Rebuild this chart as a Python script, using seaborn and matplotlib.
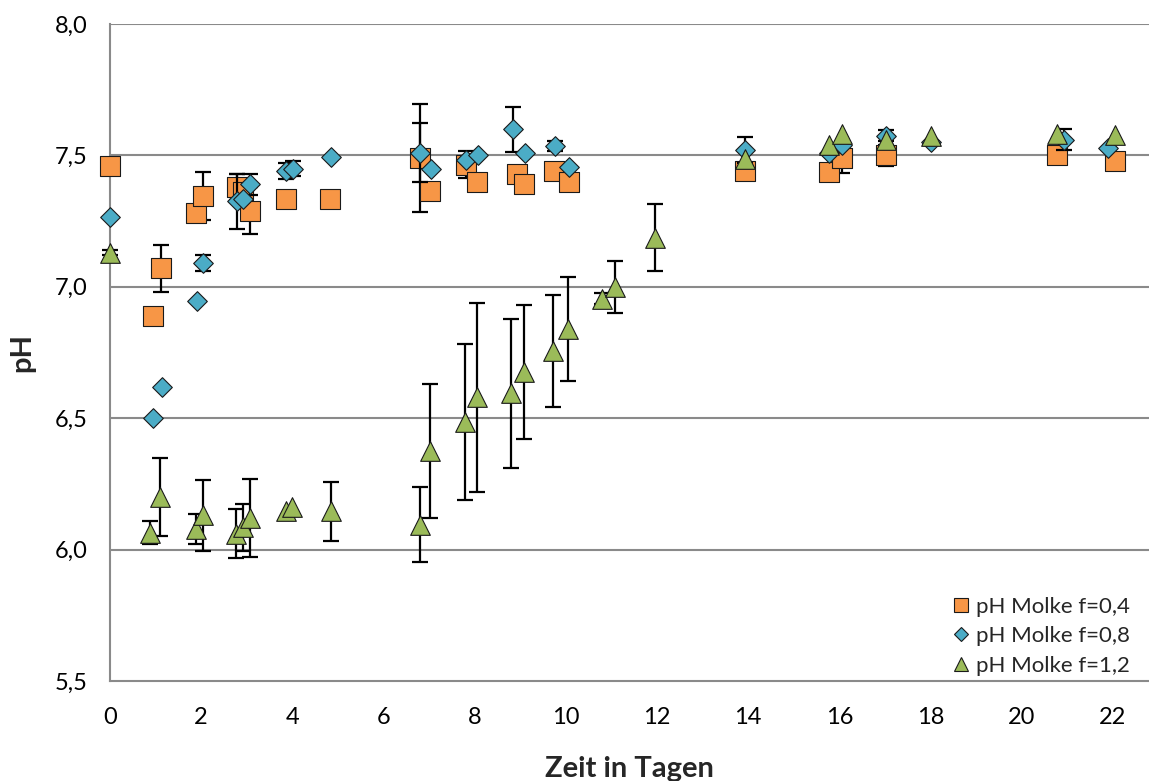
import matplotlib
matplotlib.use("Agg")
import matplotlib.pyplot as plt
from matplotlib.lines import Line2D
from matplotlib.ticker import FuncFormatter
import pandas as pd
import seaborn as sns

# Series data: time in days, pH, standard deviation
days_f04 = [0.00, 0.94, 1.12, 1.88, 2.04, 2.78, 2.92, 3.08, 3.87, 4.82, 6.81, 7.03,
            7.80, 8.06, 8.93, 9.09, 9.75, 10.06, 13.94, 15.78, 16.05, 17.03, 20.78, 22.05]
ph_f04 = [7.46, 6.89, 7.07, 7.28, 7.345, 7.38, 7.36, 7.29, 7.335, 7.335, 7.49, 7.365,
          7.465, 7.40, 7.43, 7.39, 7.44, 7.40, 7.44, 7.435, 7.49, 7.50, 7.50, 7.48]
sd_f04 = [0.0, 0.0, 0.09, 0.03, 0.09, 0.05, 0.0, 0.09, 0.0, 0.0, 0.205, 0.0,
          0.05, 0.0, 0.0, 0.0, 0.0, 0.0, 0.0, 0.0, 0.057, 0.04, 0.0, 0.0]

days_f08 = [0.00, 0.94, 1.13, 1.90, 2.05, 2.78, 2.92, 3.08, 3.87, 4.02, 4.84, 6.81,
            7.05, 7.80, 8.07, 8.84, 9.10, 9.77, 10.06, 13.94, 15.78, 16.05, 17.03,
            18.02, 20.94, 21.90]
ph_f08 = [7.265, 6.50, 6.62, 6.945, 7.09, 7.325, 7.335, 7.39, 7.44, 7.45, 7.495, 7.51,
          7.447, 7.484, 7.50, 7.60, 7.51, 7.535, 7.455, 7.52, 7.51, 7.54, 7.575,
          7.55, 7.56, 7.53]
sd_f08 = [0.0, 0.0, 0.0, 0.0, 0.03, 0.105, 0.0, 0.04, 0.03, 0.03, 0.0, 0.113,
          0.0, 0.0, 0.0, 0.086, 0.0, 0.02, 0.0, 0.05, 0.0, 0.0, 0.02,
          0.0, 0.04, 0.0]

days_f12 = [0.00, 0.88, 1.10, 1.88, 2.04, 2.76, 2.92, 3.07, 3.87, 4.00, 4.84, 6.81,
            7.03, 7.79, 8.05, 8.80, 9.08, 9.73, 10.05, 10.79, 11.09, 11.96, 13.94,
            15.78, 16.05, 17.03, 18.02, 20.78, 22.05]
ph_f12 = [7.13, 6.065, 6.20, 6.08, 6.13, 6.06, 6.085, 6.12, 6.148, 6.163, 6.145, 6.095,
          6.375, 6.485, 6.58, 6.595, 6.675, 6.755, 6.84, 6.955, 7.00, 7.187, 7.487,
          7.538, 7.582, 7.56, 7.573, 7.582, 7.578]
sd_f12 = [0.01, 0.043, 0.15, 0.057, 0.135, 0.093, 0.09, 0.148, 0.0, 0.0, 0.114, 0.142,
          0.255, 0.297, 0.36, 0.283, 0.255, 0.213, 0.197, 0.02, 0.10, 0.127, 0.0,
          0.0, 0.0, 0.0, 0.0, 0.0, 0.0]

labels = ["pH Molke f=0,4", "pH Molke f=0,8", "pH Molke f=1,2"]
colors = ["#F79646", "#4BACC6", "#9BBB59"]
markers = ["s", "D", "^"]
sizes = [190, 100, 200]

y_ticks = [5.5, 6.0, 6.5, 7.0, 7.5, 8.0]
x_ticks = list(range(0, 23, 2))

series = [(days_f04, ph_f04, sd_f04), (days_f08, ph_f08, sd_f08), (days_f12, ph_f12, sd_f12)]

sns.set_theme(style="white")
plt.rcParams["font.family"] = ["Lato", "DejaVu Sans"]

fig = plt.figure(figsize=(11.49, 7.81), dpi=100)
ax = fig.add_axes([110 / 1149, 1 - 681 / 781, 1 - 110 / 1149, (681 - 24) / 781])

grid_col = "#8A8A8A"
for yt in y_ticks[1:]:
    ax.axhline(yt, color=grid_col, lw=1.5, zorder=0.5)

z = 2
for (d, p, s), lab, col, mk, sz in zip(series, labels, colors, markers, sizes):
    df = pd.DataFrame({"Tag": d, "pH": p, "sd": s})
    has = df[df["sd"] > 0]
    ax.errorbar(has["Tag"], has["pH"], yerr=has["sd"], fmt="none", ecolor="black",
                elinewidth=1.6, capsize=6, capthick=1.6, zorder=z, clip_on=False)
    sns.scatterplot(data=df, x="Tag", y="pH", marker=mk, s=sz, color=col,
                    edgecolor="#1a1a1a", linewidth=0.8, ax=ax, zorder=z + 1,
                    legend=False, clip_on=False)
    z += 2

ax.set_xlim(0, (1149 - 110) / 45.58)
ax.set_ylim(5.5, 8.0)
ax.set_xticks(x_ticks)
ax.set_yticks(y_ticks)
ax.yaxis.set_major_formatter(FuncFormatter(lambda v, _: f"{v:.1f}".replace(".", ",")))

for side in ["top", "right"]:
    ax.spines[side].set_visible(False)
for side in ["left", "bottom"]:
    ax.spines[side].set_color(grid_col)
    ax.spines[side].set_linewidth(1.5)

ax.tick_params(axis="both", which="major", direction="out", length=6, width=1.2,
               color=grid_col, labelsize=17, labelcolor="black")
ax.tick_params(axis="y", pad=10)
ax.tick_params(axis="x", pad=13)

ax.set_xlabel("Zeit in Tagen", fontsize=21, fontweight="bold", labelpad=20)
ax.set_ylabel("pH", fontsize=21, fontweight="bold", labelpad=14)

handles = [Line2D([], [], linestyle="none", marker=mk, color=col, markeredgecolor="#1a1a1a",
                  markeredgewidth=0.8, markersize=ms)
           for mk, col, ms in zip(markers, colors, [10.5, 7.5, 10.5])]
ax.legend(handles, labels, loc="lower right", bbox_to_anchor=(0.995, -0.012), frameon=False,
          fontsize=16, handletextpad=0.1, handlelength=1.2, labelspacing=0.42,
          borderaxespad=0.2)

fig.savefig("out.png", dpi=100)
